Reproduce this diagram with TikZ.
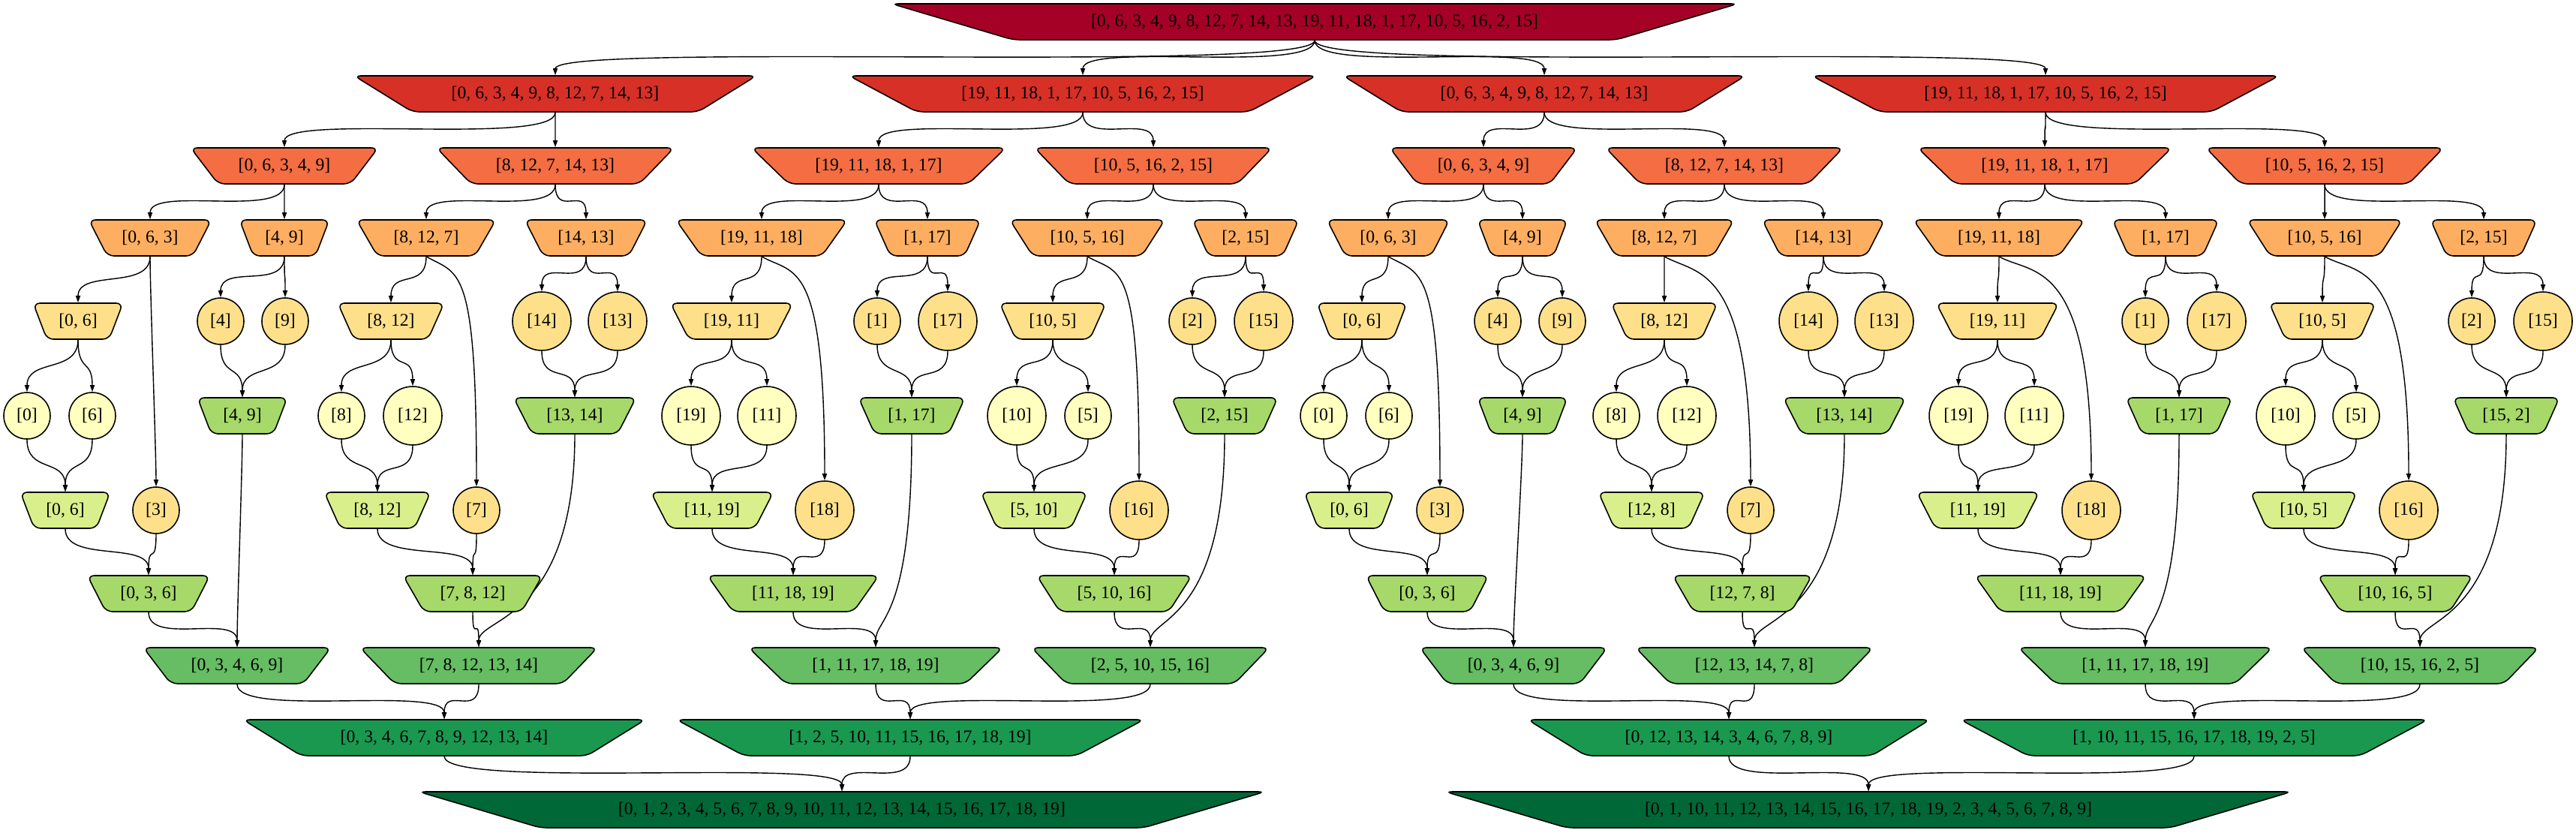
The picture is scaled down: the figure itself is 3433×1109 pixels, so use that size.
\documentclass[tikz,border=0pt]{standalone}
\usepackage{fontspec}
\setmainfont{Liberation Serif}
\usetikzlibrary{shapes.geometric,arrows.meta,backgrounds}
\definecolor{rg1}{HTML}{A50026}
\definecolor{rg2}{HTML}{D73027}
\definecolor{rg3}{HTML}{F46D43}
\definecolor{rg4}{HTML}{FDAE61}
\definecolor{rg5}{HTML}{FEE08B}
\definecolor{rg6}{HTML}{FFFFBF}
\definecolor{rg7}{HTML}{D9EF8B}
\definecolor{rg8}{HTML}{A6D96A}
\definecolor{rg9}{HTML}{66BD63}
\definecolor{rg10}{HTML}{1A9850}
\definecolor{rg11}{HTML}{006837}
\begin{document}
\begin{tikzpicture}[x=0.02cm,y=0.02cm,
  every node/.style={draw,line width=0.9pt,font=\fontsize{13.5}{16}\selectfont,inner sep=2pt},
  tz/.code={\pgfmathsetmacro\trapang{atan(48/(0.19*#1))}%
    \edef\trapkeys{\noexpand\pgfkeysalso{trapezium,shape border rotate=180,trapezium stretches=true,
      rounded corners=5pt,minimum height=0.96cm,minimum width=#1*0.02cm,trapezium angle=\trapang}}\trapkeys},
  leaf/.style={ellipse,inner sep=0pt,minimum size=1.24cm},
  bigleaf/.style={ellipse,inner sep=0pt,minimum size=1.56cm},
  link/.style={-{Triangle[length=0.18cm,width=0.12cm]},line width=0.8pt,out=-90,in=90,distance=0.9cm},
  early/.style={out=-30,out distance=1cm,in distance=6cm},
  late/.style={out distance=5cm,in distance=0.8cm}]
\useasboundingbox (0,0) rectangle (3433,-1109);
% splitting half
\node[tz=1129,fill=rg1] (all) at (1752,-29) {[0, 6, 3, 4, 9, 8, 12, 7, 14, 13, 19, 11, 18, 1, 17, 10, 5, 16, 2, 15]};
\node[tz=537,fill=rg2] (La) at (740,-125) {[0, 6, 3, 4, 9, 8, 12, 7, 14, 13]};
\node[tz=625,fill=rg2] (Lb) at (1443,-125) {[19, 11, 18, 1, 17, 10, 5, 16, 2, 15]};
\node[tz=537,fill=rg2] (Ra) at (2058,-125) {[0, 6, 3, 4, 9, 8, 12, 7, 14, 13]};
\node[tz=625,fill=rg2] (Rb) at (2726,-125) {[19, 11, 18, 1, 17, 10, 5, 16, 2, 15]};
\node[tz=250,fill=rg3] (La1) at (379,-221) {[0, 6, 3, 4, 9]};
\node[tz=317,fill=rg3] (La2) at (740,-221) {[8, 12, 7, 14, 13]};
\node[tz=339,fill=rg3] (Lb1) at (1171,-221) {[19, 11, 18, 1, 17]};
\node[tz=317,fill=rg3] (Lb2) at (1537,-221) {[10, 5, 16, 2, 15]};
\node[tz=250,fill=rg3] (Ra1) at (1977,-221) {[0, 6, 3, 4, 9]};
\node[tz=317,fill=rg3] (Ra2) at (2298,-221) {[8, 12, 7, 14, 13]};
\node[tz=339,fill=rg3] (Rb1) at (2725,-221) {[19, 11, 18, 1, 17]};
\node[tz=317,fill=rg3] (Rb2) at (3098,-221) {[10, 5, 16, 2, 15]};
\node[tz=164,fill=rg4] (La11) at (200,-317) {[0, 6, 3]};
\node[tz=120,fill=rg4] (La12) at (379,-317) {[4, 9]};
\node[tz=186,fill=rg4] (La21) at (568,-317) {[8, 12, 7]};
\node[tz=164,fill=rg4] (La22) at (781,-317) {[14, 13]};
\node[tz=230,fill=rg4] (Lb11) at (1015,-317) {[19, 11, 18]};
\node[tz=142,fill=rg4] (Lb12) at (1236,-317) {[1, 17]};
\node[tz=208,fill=rg4] (Lb21) at (1449,-317) {[10, 5, 16]};
\node[tz=142,fill=rg4] (Lb22) at (1660,-317) {[2, 15]};
\node[tz=164,fill=rg4] (Ra11) at (1850,-317) {[0, 6, 3]};
\node[tz=120,fill=rg4] (Ra12) at (2029,-317) {[4, 9]};
\node[tz=186,fill=rg4] (Ra21) at (2218,-317) {[8, 12, 7]};
\node[tz=164,fill=rg4] (Ra22) at (2430,-317) {[14, 13]};
\node[tz=230,fill=rg4] (Rb11) at (2664,-317) {[19, 11, 18]};
\node[tz=142,fill=rg4] (Rb12) at (2886,-317) {[1, 17]};
\node[tz=208,fill=rg4] (Rb21) at (3098,-317) {[10, 5, 16]};
\node[tz=142,fill=rg4] (Rb22) at (3310,-317) {[2, 15]};
\node[tz=120,fill=rg5] (La111) at (104,-428) {[0, 6]};
\node[leaf,fill=rg5] (La121) at (294,-428) {[4]};
\node[leaf,fill=rg5] (La122) at (380,-428) {[9]};
\node[tz=142,fill=rg5] (La211) at (521,-428) {[8, 12]};
\node[bigleaf,fill=rg5] (La221) at (722,-428) {[14]};
\node[bigleaf,fill=rg5] (La222) at (823,-428) {[13]};
\node[tz=164,fill=rg5] (Lb111) at (975,-428) {[19, 11]};
\node[leaf,fill=rg5] (Lb121) at (1169,-428) {[1]};
\node[bigleaf,fill=rg5] (Lb122) at (1263,-428) {[17]};
\node[tz=142,fill=rg5] (Lb211) at (1403,-428) {[10, 5]};
\node[leaf,fill=rg5] (Lb221) at (1589,-428) {[2]};
\node[bigleaf,fill=rg5] (Lb222) at (1684,-428) {[15]};
\node[tz=120,fill=rg5] (Ra111) at (1815,-428) {[0, 6]};
\node[leaf,fill=rg5] (Ra121) at (1996,-428) {[4]};
\node[leaf,fill=rg5] (Ra122) at (2082,-428) {[9]};
\node[tz=142,fill=rg5] (Ra211) at (2218,-428) {[8, 12]};
\node[bigleaf,fill=rg5] (Ra221) at (2410,-428) {[14]};
\node[bigleaf,fill=rg5] (Ra222) at (2511,-428) {[13]};
\node[tz=164,fill=rg5] (Rb111) at (2662,-428) {[19, 11]};
\node[leaf,fill=rg5] (Rb121) at (2859,-428) {[1]};
\node[bigleaf,fill=rg5] (Rb122) at (2954,-428) {[17]};
\node[tz=142,fill=rg5] (Rb211) at (3095,-428) {[10, 5]};
\node[leaf,fill=rg5] (Rb221) at (3294,-428) {[2]};
\node[bigleaf,fill=rg5] (Rb222) at (3389,-428) {[15]};
\node[leaf,fill=rg6] (La1111) at (36,-554) {[0]};
\node[leaf,fill=rg6] (La1112) at (123,-554) {[6]};
\node[leaf,fill=rg6] (La2111) at (455,-554) {[8]};
\node[bigleaf,fill=rg6] (La2112) at (550,-554) {[12]};
\node[bigleaf,fill=rg6] (Lb1111) at (921,-554) {[19]};
\node[bigleaf,fill=rg6] (Lb1112) at (1022,-554) {[11]};
\node[bigleaf,fill=rg6] (Lb2111) at (1355,-554) {[10]};
\node[leaf,fill=rg6] (Lb2112) at (1450,-554) {[5]};
\node[leaf,fill=rg6] (Ra1111) at (1764,-554) {[0]};
\node[leaf,fill=rg6] (Ra1112) at (1851,-554) {[6]};
\node[leaf,fill=rg6] (Ra2111) at (2154,-554) {[8]};
\node[bigleaf,fill=rg6] (Ra2112) at (2248,-554) {[12]};
\node[bigleaf,fill=rg6] (Rb1111) at (2610,-554) {[19]};
\node[bigleaf,fill=rg6] (Rb1112) at (2711,-554) {[11]};
\node[bigleaf,fill=rg6] (Rb2111) at (3046,-554) {[10]};
\node[leaf,fill=rg6] (Rb2112) at (3140,-554) {[5]};
\node[leaf,fill=rg5] (La112) at (208,-680) {[3]};
\node[leaf,fill=rg5] (La212) at (635,-680) {[7]};
\node[bigleaf,fill=rg5] (Lb112) at (1099,-680) {[18]};
\node[bigleaf,fill=rg5] (Lb212) at (1518,-680) {[16]};
\node[leaf,fill=rg5] (Ra112) at (1919,-680) {[3]};
\node[leaf,fill=rg5] (Ra212) at (2333,-680) {[7]};
\node[bigleaf,fill=rg5] (Rb112) at (2787,-680) {[18]};
\node[bigleaf,fill=rg5] (Rb212) at (3210,-680) {[16]};
% merging half
\node[tz=120,fill=rg8] (Lma12) at (323,-554) {[4, 9]};
\node[tz=164,fill=rg8] (Lma22) at (766,-554) {[13, 14]};
\node[tz=142,fill=rg8] (Lmb12) at (1215,-554) {[1, 17]};
\node[tz=142,fill=rg8] (Lmb22) at (1632,-554) {[2, 15]};
\node[tz=120,fill=rg8] (Rma12) at (2029,-554) {[4, 9]};
\node[tz=164,fill=rg8] (Rma22) at (2458,-554) {[13, 14]};
\node[tz=142,fill=rg8] (Rmb12) at (2904,-554) {[1, 17]};
\node[tz=142,fill=rg8] (Rmb22) at (3340,-554) {[15, 2]};
\node[tz=120,fill=rg7] (Lma111) at (87,-680) {[0, 6]};
\node[tz=142,fill=rg7] (Lma211) at (503,-680) {[8, 12]};
\node[tz=164,fill=rg7] (Lmb111) at (949,-680) {[11, 19]};
\node[tz=142,fill=rg7] (Lmb211) at (1378,-680) {[5, 10]};
\node[tz=120,fill=rg7] (Rma111) at (1798,-680) {[0, 6]};
\node[tz=142,fill=rg7] (Rma211) at (2201,-680) {[12, 8]};
\node[tz=164,fill=rg7] (Rmb111) at (2636,-680) {[11, 19]};
\node[tz=142,fill=rg7] (Rmb211) at (3070,-680) {[10, 5]};
\node[tz=164,fill=rg8] (Lma11) at (198,-791) {[0, 3, 6]};
\node[tz=186,fill=rg8] (Lma21) at (630,-791) {[7, 8, 12]};
\node[tz=230,fill=rg8] (Lmb11) at (1057,-791) {[11, 18, 19]};
\node[tz=208,fill=rg8] (Lmb21) at (1485,-791) {[5, 10, 16]};
\node[tz=164,fill=rg8] (Rma11) at (1902,-791) {[0, 3, 6]};
\node[tz=186,fill=rg8] (Rma21) at (2322,-791) {[12, 7, 8]};
\node[tz=230,fill=rg8] (Rmb11) at (2746,-791) {[11, 18, 19]};
\node[tz=208,fill=rg8] (Rmb21) at (3192,-791) {[10, 16, 5]};
\node[tz=250,fill=rg9] (Lma1) at (316,-887) {[0, 3, 4, 6, 9]};
\node[tz=317,fill=rg9] (Lma2) at (638,-887) {[7, 8, 12, 13, 14]};
\node[tz=339,fill=rg9] (Lmb1) at (1167,-887) {[1, 11, 17, 18, 19]};
\node[tz=317,fill=rg9] (Lmb2) at (1533,-887) {[2, 5, 10, 15, 16]};
\node[tz=250,fill=rg9] (Rma1) at (2017,-887) {[0, 3, 4, 6, 9]};
\node[tz=317,fill=rg9] (Rma2) at (2338,-887) {[12, 13, 14, 7, 8]};
\node[tz=339,fill=rg9] (Rmb1) at (2859,-887) {[1, 11, 17, 18, 19]};
\node[tz=317,fill=rg9] (Rmb2) at (3225,-887) {[10, 15, 16, 2, 5]};
\node[tz=537,fill=rg10] (Lma) at (592,-983) {[0, 3, 4, 6, 7, 8, 9, 12, 13, 14]};
\node[tz=625,fill=rg10] (Lmb) at (1213,-983) {[1, 2, 5, 10, 11, 15, 16, 17, 18, 19]};
\node[tz=537,fill=rg10] (Rma) at (2304,-983) {[0, 12, 13, 14, 3, 4, 6, 7, 8, 9]};
\node[tz=625,fill=rg10] (Rmb) at (2924,-983) {[1, 10, 11, 15, 16, 17, 18, 19, 2, 5]};
\node[tz=1129,fill=rg11] (Lm) at (1122,-1079) {[0, 1, 2, 3, 4, 5, 6, 7, 8, 9, 10, 11, 12, 13, 14, 15, 16, 17, 18, 19]};
\node[tz=1129,fill=rg11] (Rm) at (2490,-1079) {[0, 1, 10, 11, 12, 13, 14, 15, 16, 17, 18, 19, 2, 3, 4, 5, 6, 7, 8, 9]};
\begin{scope}[on background layer]
% split links
\draw[link] (all) to (La);\draw[link] (all) to (Lb);\draw[link] (all) to (Ra);\draw[link] (all) to (Rb);
\draw[link] (La) to (La1);\draw[link] (La) to (La2);\draw[link] (Lb) to (Lb1);\draw[link] (Lb) to (Lb2);
\draw[link] (Ra) to (Ra1);\draw[link] (Ra) to (Ra2);\draw[link] (Rb) to (Rb1);\draw[link] (Rb) to (Rb2);
\draw[link] (La1) to (La11);\draw[link] (La1) to (La12);\draw[link] (La2) to (La21);\draw[link] (La2) to (La22);
\draw[link] (Lb1) to (Lb11);\draw[link] (Lb1) to (Lb12);\draw[link] (Lb2) to (Lb21);\draw[link] (Lb2) to (Lb22);
\draw[link] (Ra1) to (Ra11);\draw[link] (Ra1) to (Ra12);\draw[link] (Ra2) to (Ra21);\draw[link] (Ra2) to (Ra22);
\draw[link] (Rb1) to (Rb11);\draw[link] (Rb1) to (Rb12);\draw[link] (Rb2) to (Rb21);\draw[link] (Rb2) to (Rb22);
\draw[link] (La11) to (La111);\draw[link] (La11) to (La112);\draw[link] (La12) to (La121);\draw[link] (La12) to (La122);
\draw[link] (La21) to (La211);\draw[link,early] (La21.south) to (La212);\draw[link] (La22) to (La221);\draw[link] (La22) to (La222);
\draw[link] (Lb11) to (Lb111);\draw[link,early] (Lb11.south) to (Lb112);\draw[link] (Lb12) to (Lb121);\draw[link] (Lb12) to (Lb122);
\draw[link] (Lb21) to (Lb211);\draw[link,early] (Lb21.south) to (Lb212);\draw[link] (Lb22) to (Lb221);\draw[link] (Lb22) to (Lb222);
\draw[link] (Ra11) to (Ra111);\draw[link,early] (Ra11.south) to (Ra112);\draw[link] (Ra12) to (Ra121);\draw[link] (Ra12) to (Ra122);
\draw[link] (Ra21) to (Ra211);\draw[link,early] (Ra21.south) to (Ra212);\draw[link] (Ra22) to (Ra221);\draw[link] (Ra22) to (Ra222);
\draw[link] (Rb11) to (Rb111);\draw[link,early] (Rb11.south) to (Rb112);\draw[link] (Rb12) to (Rb121);\draw[link] (Rb12) to (Rb122);
\draw[link] (Rb21) to (Rb211);\draw[link,early] (Rb21.south) to (Rb212);\draw[link] (Rb22) to (Rb221);\draw[link] (Rb22) to (Rb222);
\draw[link] (La111) to (La1111);\draw[link] (La111) to (La1112);\draw[link] (La211) to (La2111);\draw[link] (La211) to (La2112);
\draw[link] (Lb111) to (Lb1111);\draw[link] (Lb111) to (Lb1112);\draw[link] (Lb211) to (Lb2111);\draw[link] (Lb211) to (Lb2112);
\draw[link] (Ra111) to (Ra1111);\draw[link] (Ra111) to (Ra1112);\draw[link] (Ra211) to (Ra2111);\draw[link] (Ra211) to (Ra2112);
\draw[link] (Rb111) to (Rb1111);\draw[link] (Rb111) to (Rb1112);\draw[link] (Rb211) to (Rb2111);\draw[link] (Rb211) to (Rb2112);
% merge links
\draw[link] (La121) to (Lma12);\draw[link] (La122) to (Lma12);\draw[link] (La221) to (Lma22);\draw[link] (La222) to (Lma22);
\draw[link] (Lb121) to (Lmb12);\draw[link] (Lb122) to (Lmb12);\draw[link] (Lb221) to (Lmb22);\draw[link] (Lb222) to (Lmb22);
\draw[link] (Ra121) to (Rma12);\draw[link] (Ra122) to (Rma12);\draw[link] (Ra221) to (Rma22);\draw[link] (Ra222) to (Rma22);
\draw[link] (Rb121) to (Rmb12);\draw[link] (Rb122) to (Rmb12);\draw[link] (Rb221) to (Rmb22);\draw[link] (Rb222) to (Rmb22);
\draw[link] (La1111) to (Lma111);\draw[link] (La1112) to (Lma111);\draw[link] (La2111) to (Lma211);\draw[link] (La2112) to (Lma211);
\draw[link] (Lb1111) to (Lmb111);\draw[link] (Lb1112) to (Lmb111);\draw[link] (Lb2111) to (Lmb211);\draw[link] (Lb2112) to (Lmb211);
\draw[link] (Ra1111) to (Rma111);\draw[link] (Ra1112) to (Rma111);\draw[link] (Ra2111) to (Rma211);\draw[link] (Ra2112) to (Rma211);
\draw[link] (Rb1111) to (Rmb111);\draw[link] (Rb1112) to (Rmb111);\draw[link] (Rb2111) to (Rmb211);\draw[link] (Rb2112) to (Rmb211);
\draw[link] (Lma111) to (Lma11);\draw[link] (La112) to (Lma11);\draw[link] (Lma211) to (Lma21);\draw[link] (La212) to (Lma21);
\draw[link] (Lmb111) to (Lmb11);\draw[link] (Lb112) to (Lmb11);\draw[link] (Lmb211) to (Lmb21);\draw[link] (Lb212) to (Lmb21);
\draw[link] (Rma111) to (Rma11);\draw[link] (Ra112) to (Rma11);\draw[link] (Rma211) to (Rma21);\draw[link] (Ra212) to (Rma21);
\draw[link] (Rmb111) to (Rmb11);\draw[link] (Rb112) to (Rmb11);\draw[link] (Rmb211) to (Rmb21);\draw[link] (Rb212) to (Rmb21);
\draw[link] (Lma11) to (Lma1);\draw[link] (Lma12) to (Lma1);\draw[link] (Lma21) to (Lma2);\draw[link,late] (Lma22) to (Lma2);
\draw[link] (Lmb11) to (Lmb1);\draw[link,late] (Lmb12) to (Lmb1);\draw[link] (Lmb21) to (Lmb2);\draw[link,late] (Lmb22) to (Lmb2);
\draw[link] (Rma11) to (Rma1);\draw[link] (Rma12) to (Rma1);\draw[link] (Rma21) to (Rma2);\draw[link,late] (Rma22) to (Rma2);
\draw[link] (Rmb11) to (Rmb1);\draw[link,late] (Rmb12) to (Rmb1);\draw[link] (Rmb21) to (Rmb2);\draw[link,late] (Rmb22) to (Rmb2);
\draw[link] (Lma1) to (Lma);\draw[link] (Lma2) to (Lma);\draw[link] (Lmb1) to (Lmb);\draw[link] (Lmb2) to (Lmb);
\draw[link] (Rma1) to (Rma);\draw[link] (Rma2) to (Rma);\draw[link] (Rmb1) to (Rmb);\draw[link] (Rmb2) to (Rmb);
\draw[link] (Lma) to (Lm);\draw[link] (Lmb) to (Lm);\draw[link] (Rma) to (Rm);\draw[link] (Rmb) to (Rm);
\end{scope}
\end{tikzpicture}
\end{document}
